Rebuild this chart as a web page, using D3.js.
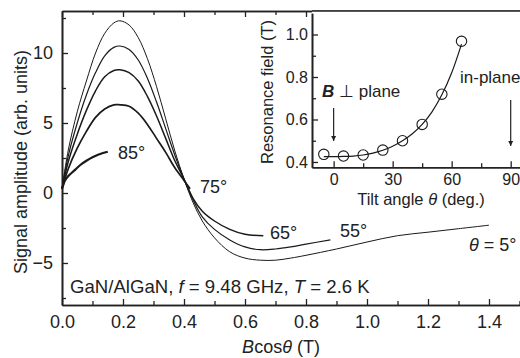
<!DOCTYPE html>
<html><head><meta charset="utf-8">
<script src="https://cdn.jsdelivr.net/npm/d3@7"></script>
<style>
body{margin:0;background:#fff;}
svg{display:block;font-family:"Liberation Sans",Arial,sans-serif;}
</style></head>
<body><svg id="c" width="520" height="358"></svg>
<script>
// ---- main chart data: Bcos(theta) [T] vs signal amplitude ----
const x5  = [0,0.02,0.05,0.08,0.11,0.14,0.17,0.19,0.22,0.25,0.28,0.31,0.34,0.37,0.40,0.43,0.46,0.50,0.55,0.60,0.65,0.70,0.75,0.80,0.90,1.00,1.10,1.20,1.30,1.40];
const y5  = [0.3,3.0,5.8,8.0,10.0,11.4,12.15,12.3,12.0,11.1,9.6,7.6,5.3,3.0,1.0,-0.7,-2.0,-3.2,-4.2,-4.65,-4.8,-4.8,-4.65,-4.45,-4.0,-3.5,-3.05,-2.8,-2.55,-2.3];
const x55 = [0,0.02,0.05,0.08,0.11,0.14,0.17,0.19,0.22,0.25,0.28,0.31,0.34,0.37,0.40,0.43,0.46,0.50,0.55,0.60,0.65,0.70,0.75,0.80,0.88];
const y55 = [0.3,2.6,5.0,7.0,8.6,9.8,10.4,10.5,10.25,9.5,8.2,6.5,4.6,2.7,1.0,-0.5,-1.7,-2.6,-3.35,-3.85,-4.05,-4.0,-3.85,-3.65,-3.35];
const x65 = [0,0.02,0.05,0.08,0.11,0.14,0.17,0.19,0.22,0.25,0.28,0.31,0.34,0.37,0.40,0.43,0.46,0.50,0.55,0.60,0.66];
const y65 = [0.3,2.2,4.2,5.9,7.3,8.3,8.75,8.8,8.6,8.0,6.9,5.5,3.9,2.3,1.0,-0.4,-1.3,-2.0,-2.6,-2.95,-3.05];
const x75 = [0,0.02,0.05,0.08,0.11,0.14,0.17,0.19,0.22,0.25,0.28,0.31,0.34,0.37,0.40,0.42];
const y75 = [0.3,1.7,3.2,4.4,5.4,6.0,6.3,6.3,6.2,5.7,4.9,3.9,2.9,1.8,0.9,0.3];
const x85 = [0,0.01,0.02,0.04,0.06,0.08,0.10,0.12,0.15];
const y85 = [0.3,0.9,1.2,1.6,2.0,2.3,2.55,2.75,2.95];

const xMajor = [0,0.2,0.4,0.6,0.8,1.0,1.2,1.4];
const xMinor = [0.1,0.3,0.5,0.7,0.9,1.1,1.3,1.5];
const yMajor = [-5,0,5,10];
const yMinor = [-7.5,-2.5,2.5,7.5,12.5];

// ---- inset data: tilt angle vs resonance field ----
const angles = [-5,5,15,25,35,45,55,65];
const resField = [0.436,0.428,0.433,0.456,0.50,0.577,0.719,0.968];
const fitAngle = [-5,0,5,10,15,20,25,30,35,40,45,50,55,60,65];
const fitField = [0.425,0.425,0.426,0.428,0.433,0.442,0.455,0.474,0.50,0.533,0.577,0.636,0.716,0.82,0.955];
const insXMajor = [0,30,60,90];
const insXMinor = [15,45,75];
const insYMajor = [0.4,0.6,0.8,1.0];
const insYMinor = [0.5,0.7,0.9];

const svg = d3.select("#c");
const x = d3.scaleLinear().domain([0,1.52]).range([62,525.6]);
const y = d3.scaleLinear().domain([-8,13]).range([305,11]);

const fmt1 = d3.format(".1f");
// main axes
svg.append("g").attr("transform","translate(0,305)")
  .call(d3.axisBottom(x).tickValues(xMajor).tickFormat(fmt1).tickSizeInner(-6).tickSizeOuter(0).tickPadding(10));
svg.append("g").attr("transform","translate(0,305)")
  .call(d3.axisBottom(x).tickValues(xMinor).tickFormat("").tickSizeInner(-4).tickSizeOuter(0));
svg.append("g").attr("transform","translate(0,11)")
  .call(d3.axisTop(x).tickValues(xMajor).tickFormat("").tickSizeInner(-6).tickSizeOuter(0));
svg.append("g").attr("transform","translate(0,11)")
  .call(d3.axisTop(x).tickValues(xMinor).tickFormat("").tickSizeInner(-4).tickSizeOuter(0));
svg.append("g").attr("transform","translate(62,0)")
  .call(d3.axisLeft(y).tickValues(yMajor).tickFormat(d3.format("d")).tickSizeInner(-6).tickSizeOuter(0).tickPadding(9));
svg.append("g").attr("transform","translate(62,0)")
  .call(d3.axisLeft(y).tickValues(yMinor).tickFormat("").tickSizeInner(-4).tickSizeOuter(0));
svg.selectAll(".domain").attr("stroke","#222").attr("stroke-width",1.6);
svg.selectAll(".tick line").attr("stroke","#222").attr("stroke-width",1.3);
svg.selectAll(".tick text").attr("font-size",18).attr("fill","#222").attr("font-family","Liberation Sans, Arial, sans-serif");

// curves
const line = d3.line().x(d=>x(d[0])).y(d=>y(d[1])).curve(d3.curveCatmullRom.alpha(0.5));
const curves = [
  {xs:x5,ys:y5,w:1.0},
  {xs:x55,ys:y55,w:1.2},
  {xs:x65,ys:y65,w:1.5},
  {xs:x75,ys:y75,w:1.7},
  {xs:x85,ys:y85,w:2.2}
];
curves.forEach(c=>{
  svg.append("path").datum(c.xs.map((v,i)=>[v,c.ys[i]]))
    .attr("d",line).attr("fill","none").attr("stroke","#1a1a1a").attr("stroke-width",c.w);
});

// curve labels
function lbl(t,xx,yy,fs){return svg.append("text").attr("x",xx).attr("y",yy).attr("font-size",fs||18).attr("fill","#222").text(t);}
lbl("85°",118,159);
lbl("75°",200,193);
lbl("65°",270,239);
lbl("55°",340,237);
const th = svg.append("text").attr("x",469).attr("y",251).attr("font-size",18).attr("fill","#222");
th.append("tspan").attr("font-style","italic").text("θ");
th.append("tspan").text(" = 5°");

const info = svg.append("text").attr("x",70).attr("y",293).attr("font-size",18.6).attr("fill","#222");
info.append("tspan").text("GaN/AlGaN, ");
info.append("tspan").attr("font-style","italic").text("f");
info.append("tspan").text(" = 9.48 GHz, ");
info.append("tspan").attr("font-style","italic").text("T");
info.append("tspan").text(" = 2.6 K");

const xt = svg.append("text").attr("x",281).attr("y",353).attr("text-anchor","middle").attr("font-size",18).attr("fill","#222");
xt.append("tspan").attr("font-style","italic").text("B");
xt.append("tspan").text("cos");
xt.append("tspan").attr("font-style","italic").text("θ");
xt.append("tspan").text(" (T)");

svg.append("text").attr("transform","translate(27,162) rotate(-90)").attr("text-anchor","middle")
  .attr("font-size",18).attr("fill","#222").text("Signal amplitude (arb. units)");

// ---- inset ----
const xi = d3.scaleLinear().domain([-11,96]).range([312,522.5]);
const yi = d3.scaleLinear().domain([0.375,1.1]).range([167.3,13.25]);
const ins = svg.append("g");
ins.append("rect").attr("x",312).attr("y",11).attr("width",210).attr("height",156.3).attr("fill","#fff");
ins.append("g").attr("transform","translate(0,167.3)")
  .call(d3.axisBottom(xi).tickValues(insXMajor).tickFormat(d3.format("d")).tickSizeInner(-6).tickSizeOuter(0).tickPadding(6));
ins.append("g").attr("transform","translate(0,167.3)")
  .call(d3.axisBottom(xi).tickValues(insXMinor).tickFormat("").tickSizeInner(-4).tickSizeOuter(0));
ins.append("g").attr("transform","translate(312,0)")
  .call(d3.axisLeft(yi).tickValues(insYMajor).tickFormat(fmt1).tickSizeInner(-6).tickSizeOuter(0).tickPadding(4));
ins.append("g").attr("transform","translate(312,0)")
  .call(d3.axisLeft(yi).tickValues(insYMinor).tickFormat("").tickSizeInner(-4).tickSizeOuter(0));
ins.append("line").attr("x1",312).attr("x2",520).attr("y1",11).attr("y2",11).attr("stroke","#222").attr("stroke-width",1.6);
ins.selectAll(".domain").attr("stroke","#222").attr("stroke-width",1.6);
ins.selectAll(".tick line").attr("stroke","#222").attr("stroke-width",1.3);
ins.selectAll(".tick text").attr("font-size",16).attr("fill","#222").attr("font-family","Liberation Sans, Arial, sans-serif");

const fitLine = d3.line().x(d=>xi(d[0])).y(d=>yi(d[1])).curve(d3.curveCatmullRom.alpha(0.5));
ins.append("path").datum(fitAngle.map((v,i)=>[v,fitField[i]])).attr("d",fitLine)
  .attr("fill","none").attr("stroke","#1a1a1a").attr("stroke-width",1.2);
ins.selectAll("circle.pt").data(angles.map((v,i)=>[v,resField[i]])).enter().append("circle")
  .attr("cx",d=>xi(d[0])).attr("cy",d=>yi(d[1])).attr("r",5.2)
  .attr("fill","none").attr("stroke","#1a1a1a").attr("stroke-width",1.1);

// arrows
const defs = svg.append("defs");
defs.append("marker").attr("id","ah").attr("viewBox","0 0 10 10").attr("refX",10).attr("refY",5)
  .attr("markerWidth",5).attr("markerHeight",7).attr("markerUnits","userSpaceOnUse").attr("orient","auto")
  .append("path").attr("d","M0,0 L10,5 L0,10 Z").attr("fill","#222");
ins.append("line").attr("x1",xi(0)).attr("x2",xi(0)).attr("y1",108).attr("y2",141)
  .attr("stroke","#222").attr("stroke-width",1.2).attr("marker-end","url(#ah)");
ins.append("line").attr("x1",xi(90)).attr("x2",xi(90)).attr("y1",100).attr("y2",146)
  .attr("stroke","#222").attr("stroke-width",1.2).attr("marker-end","url(#ah)");

const bp = ins.append("text").attr("x",322).attr("y",97).attr("font-size",17).attr("fill","#222");
bp.append("tspan").attr("font-weight","bold").attr("font-style","italic").text("B");
bp.append("tspan").text(" ⊥ plane");
ins.append("text").attr("x",460).attr("y",83).attr("font-size",17).attr("fill","#222").text("in-plane");

const it = ins.append("text").attr("x",421).attr("y",205).attr("text-anchor","middle").attr("font-size",16.5).attr("fill","#222");
it.append("tspan").text("Tilt angle ");
it.append("tspan").attr("font-style","italic").text("θ");
it.append("tspan").text(" (deg.)");
ins.append("text").attr("transform","translate(273,92) rotate(-90)").attr("text-anchor","middle")
  .attr("font-size",16.5).attr("fill","#222").text("Resonance field (T)");
</script></body></html>
